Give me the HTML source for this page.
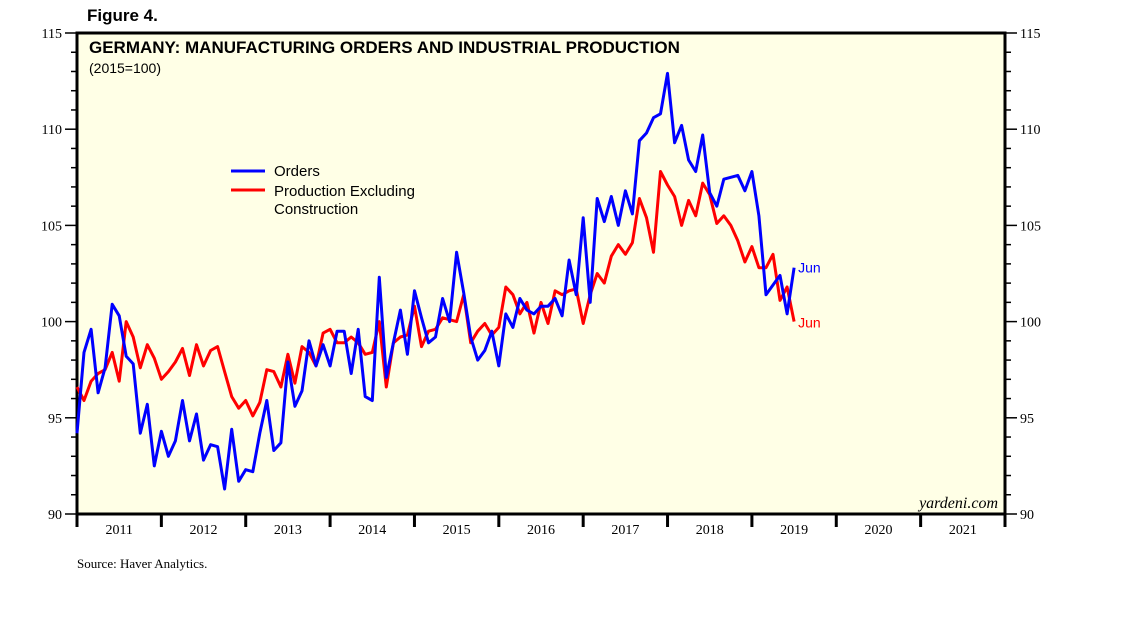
<!DOCTYPE html>
<html><head><meta charset="utf-8"><style>
body{margin:0;background:#fff;width:1138px;height:621px;overflow:hidden}
svg text{font-family:"Liberation Sans",sans-serif}
svg text.serif{font-family:"Liberation Serif",serif}
</style></head><body>
<svg id="chart" width="1138" height="621" xmlns="http://www.w3.org/2000/svg">
<text x="87" y="21" font-size="17" font-weight="bold">Figure 4.</text>
<rect x="77" y="33" width="928" height="481" fill="#ffffe6" stroke="#000" stroke-width="3"/>
<text x="89" y="53" font-size="17" font-weight="bold">GERMANY: MANUFACTURING ORDERS AND INDUSTRIAL PRODUCTION</text>
<text x="89" y="73" font-size="14">(2015=100)</text>
<g id="axes"></g>
<g id="series"></g>
<g>
<line x1="231" y1="171" x2="265" y2="171" stroke="#0000ff" stroke-width="3"/>
<text x="274" y="176" font-size="15">Orders</text>
<line x1="231" y1="190" x2="265" y2="190" stroke="#ff0000" stroke-width="3"/>
<text x="274" y="196" font-size="15">Production Excluding</text>
<text x="274" y="214" font-size="15">Construction</text>
</g>
<text class="serif" x="998" y="508" font-size="16" font-style="italic" text-anchor="end">yardeni.com</text>
<text class="serif" x="77" y="568" font-size="13">Source: Haver Analytics.</text>
</svg>
<script>
const years=["2011","2012","2013","2014","2015","2016","2017","2018","2019","2020","2021"];
const yTicks=[90,95,100,105,110,115];
const orders=[94.2,98.4,99.6,96.3,97.6,100.9,100.3,98.2,97.8,94.2,95.7,92.5,94.3,93.0,93.8,95.9,93.8,95.2,92.8,93.6,93.5,91.3,94.4,91.7,92.3,92.2,94.2,95.9,93.3,93.7,97.9,95.6,96.4,99.0,97.7,98.8,97.7,99.5,99.5,97.3,99.6,96.1,95.9,102.3,97.1,98.9,100.6,98.3,101.6,100.2,98.9,99.2,101.2,100.0,103.6,101.5,99.2,98.0,98.5,99.5,97.7,100.4,99.7,101.2,100.6,100.4,100.8,100.8,101.2,100.3,103.2,101.4,105.4,101.0,106.4,105.2,106.5,105.0,106.8,105.6,109.4,109.8,110.6,110.8,112.9,109.3,110.2,108.4,107.8,109.7,106.7,106.0,107.4,107.5,107.6,106.8,107.8,105.5,101.4,101.9,102.4,100.4,102.8];
const production=[96.6,95.9,96.9,97.3,97.5,98.4,96.9,100.0,99.2,97.6,98.8,98.1,97.0,97.4,97.9,98.6,97.2,98.8,97.7,98.5,98.7,97.4,96.1,95.5,95.9,95.1,95.8,97.5,97.4,96.6,98.3,96.8,98.7,98.4,97.7,99.4,99.6,98.9,98.9,99.2,98.9,98.3,98.4,100.0,96.6,98.9,99.2,99.3,100.8,98.7,99.5,99.6,100.2,100.1,100.0,101.4,98.9,99.5,99.9,99.3,99.7,101.8,101.4,100.4,101.0,99.4,101.0,99.9,101.6,101.4,101.6,101.7,99.9,101.4,102.5,102.0,103.4,104.0,103.5,104.1,106.4,105.4,103.6,107.8,107.1,106.5,105.0,106.3,105.5,107.2,106.6,105.1,105.5,105.0,104.2,103.1,103.9,102.8,102.8,103.5,101.1,101.8,100.0];
const L=77,R=1005,T=33,B=514,YMIN=90,YMAX=115;
const yearW=(R-L)/years.length, monthW=yearW/12;
const x=i=>L+i*monthW;
const y=v=>B-(v-YMIN)/(YMAX-YMIN)*(B-T);
const NS="http://www.w3.org/2000/svg";
function mk(tag,attrs,parent,txt){const e=document.createElementNS(NS,tag);for(const k in attrs)e.setAttribute(k,attrs[k]);if(txt!==undefined)e.textContent=txt;parent.appendChild(e);return e;}
const ax=document.getElementById('axes');
for(let v=YMIN;v<=YMAX;v++){
  const major=v%5===0;const yy=y(v);
  const t1=mk('line',{x1:major?65:71,y1:yy,x2:77,y2:yy,stroke:'#000','stroke-width':1.5},ax);
  
  
  const t2=mk('line',{x1:1005,y1:yy,x2:major?1017:1011,y2:yy,stroke:'#000','stroke-width':1.5},ax);
  
  
}
yTicks.forEach(v=>{
  const a=mk('text',{x:62,y:y(v)+5,'font-size':14,'text-anchor':'end','class':'serif'},ax,String(v));
  
  
  const b=mk('text',{x:1020,y:y(v)+5,'font-size':14,'class':'serif'},ax,String(v));
  
  
});
years.forEach((yr,k)=>{
  const xx=L+k*yearW;
  if(k>0){const t=mk('line',{x1:xx,y1:B,x2:xx,y2:B+13,stroke:'#000','stroke-width':3},ax);
  
  }
  const l=mk('text',{x:xx+yearW/2,y:B+20,'font-size':14,'text-anchor':'middle','class':'serif'},ax,yr);
  
  
});
[L,R].forEach(xx=>{const t=mk('line',{x1:xx,y1:B,x2:xx,y2:B+13,stroke:'#000','stroke-width':3},ax);

});
const sg=document.getElementById('series');
function line(data,color,name){
  const p=mk('polyline',{points:data.map((v,i)=>x(i).toFixed(1)+','+y(v).toFixed(1)).join(' '),fill:'none',stroke:color,'stroke-width':3,'stroke-linejoin':'round'},sg);
  
  
}
line(production,'#ff0000','production-line');
line(orders,'#0000ff','orders-line');
const lo=mk('text',{x:x(orders.length-1)+4,y:y(orders[orders.length-1])+5,'font-size':14,fill:'#0000ff'},sg,'Jun');


const lp=mk('text',{x:x(production.length-1)+4,y:y(production[production.length-1])+6,'font-size':14,fill:'#ff0000'},sg,'Jun');


</script>
</body></html>
